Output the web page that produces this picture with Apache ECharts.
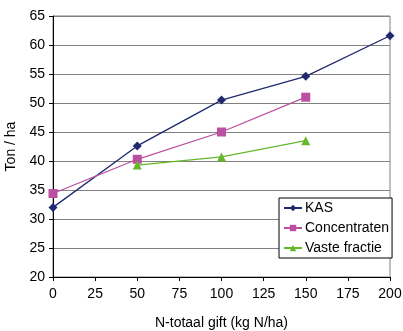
<!DOCTYPE html>
<html>
<head>
<meta charset="utf-8">
<script src="https://cdn.jsdelivr.net/npm/echarts@6/dist/echarts.min.js"></script>
<style>
  html, body { margin: 0; padding: 0; background: #fff; }
  #chart { width: 403px; height: 331px; }
</style>
</head>
<body>
<div id="chart"></div>
<script>
// N-gift (kg N/ha) en opbrengst (ton/ha)
const xTicks = [0, 25, 50, 75, 100, 125, 150, 175, 200];
const kasX = [0, 50, 100, 150, 200];
const kasY = [32, 42.6, 50.5, 54.6, 61.6];
const concX = [0, 50, 100, 150];
const concY = [34.4, 40.3, 45, 51];
const vasteX = [50, 100, 150];
const vasteY = [39.3, 40.7, 43.5];

const pairs = (xs, ys) => xs.map((x, i) => [x, ys[i]]);

const chart = echarts.init(document.getElementById('chart'));
const font = 'Liberation Sans, Arial, sans-serif';

const option = {
  animation: false,
  textStyle: { fontFamily: font },
  grid: {
    left: 53, right: 13, top: 16, bottom: 54,
    outerBoundsMode: 'none',
    show: true, borderColor: '#808080', borderWidth: 1
  },
  xAxis: {
    type: 'value',
    min: 0,
    max: 200,
    interval: 25,
    name: 'N-totaal gift (kg N/ha)',
    nameLocation: 'middle',
    nameGap: 39,
    nameTextStyle: { fontSize: 14, color: '#000', fontFamily: font },
    axisLine: { lineStyle: { color: '#000' } },
    axisTick: { show: true, length: 4, lineStyle: { color: '#000' } },
    axisLabel: { fontSize: 14, color: '#000', margin: 10 },
    splitLine: { show: false }
  },
  yAxis: {
    type: 'value',
    min: 20,
    max: 65,
    interval: 5,
    name: 'Ton / ha',
    nameLocation: 'middle',
    nameGap: 28,
    nameTextStyle: { fontSize: 14, color: '#000', fontFamily: font },
    axisLine: { show: true, lineStyle: { color: '#000' } },
    axisTick: { show: true, length: 4, lineStyle: { color: '#000' } },
    axisLabel: { fontSize: 14, color: '#000', margin: 8 },
    splitLine: { lineStyle: { color: '#808080', width: 1 } }
  },
  legend: {
    orient: 'vertical',
    left: 279,
    top: 198,
    padding: [3, 3, 3, 4],
    itemGap: 6,
    itemWidth: 18,
    itemHeight: 8,
    backgroundColor: '#fff',
    borderColor: '#000',
    borderWidth: 1,
    textStyle: { fontSize: 14, color: '#000', padding: [0, 0, 0, -2] },
    data: ['KAS', 'Concentraten', 'Vaste fractie']
  },
  series: [
    {
      name: 'KAS',
      type: 'line',
      data: pairs(kasX, kasY),
      symbol: 'diamond',
      symbolSize: 9,
      color: '#1f2a6e',
      lineStyle: { width: 1.3 }
    },
    {
      name: 'Concentraten',
      type: 'line',
      data: pairs(concX, concY),
      symbol: 'rect',
      symbolSize: 9,
      color: '#bb4fa0',
      lineStyle: { width: 1.3 }
    },
    {
      name: 'Vaste fractie',
      type: 'line',
      data: pairs(vasteX, vasteY),
      symbol: 'triangle',
      symbolSize: 9,
      color: '#66b82a',
      lineStyle: { width: 1.3 }
    }
  ]
};

chart.setOption(option);
</script>
</body>
</html>
